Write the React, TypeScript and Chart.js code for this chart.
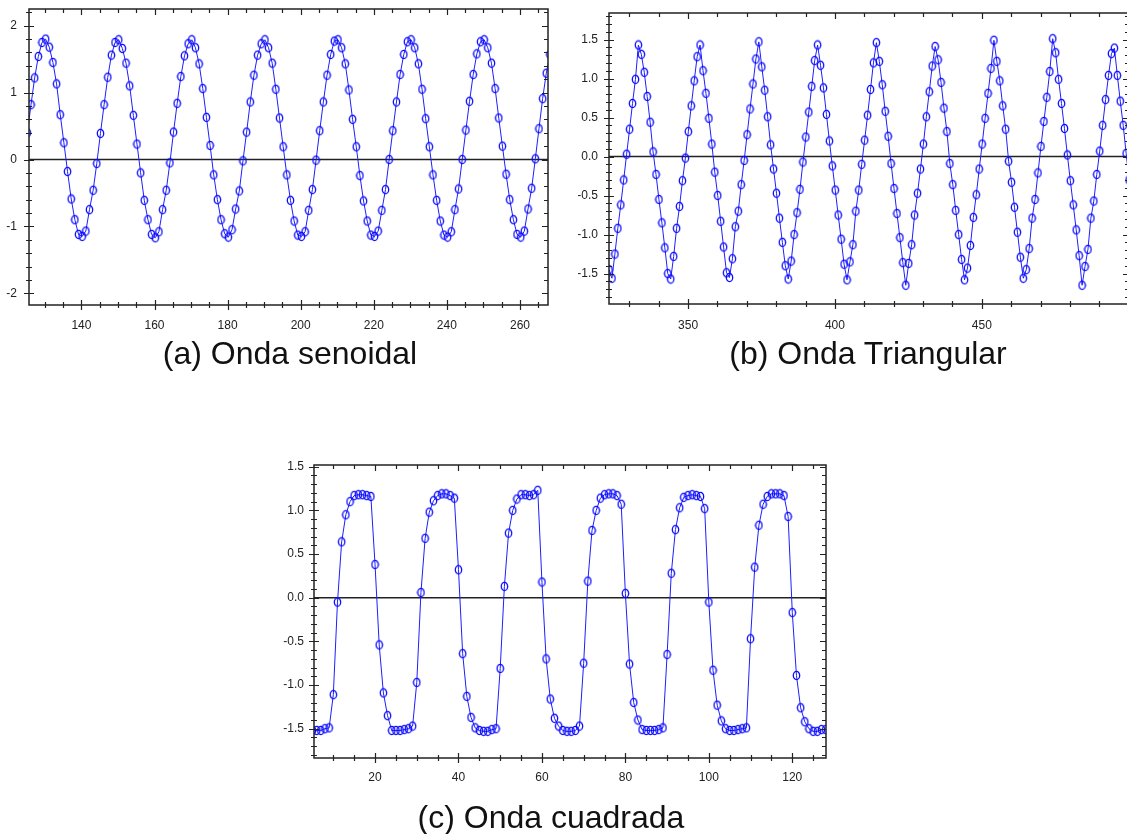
import React, { useEffect, useRef } from "react";
import { Chart, registerables } from "chart.js";

Chart.register(...registerables);

// ---------- (a) Onda senoidal ----------
const SINE_X_START = 125.2;
const SINE_X_STEP = 1;
const SINE_VALUES = [
  0.40, 0.82, 1.22, 1.54, 1.75, 1.80, 1.68, 1.45, 1.13, 0.67, 0.25, -0.18, -0.59, -0.90, -1.12, -1.15, -1.07, -0.75, -0.46, -0.06,
  0.39, 0.82, 1.23, 1.56, 1.75, 1.79, 1.66, 1.44, 1.10, 0.66, 0.23, -0.20, -0.61, -0.90, -1.12, -1.17, -1.08, -0.75, -0.46, -0.05,
  0.41, 0.84, 1.24, 1.55, 1.73, 1.79, 1.67, 1.43, 1.06, 0.63, 0.21, -0.23, -0.60, -0.90, -1.11, -1.16, -1.05, -0.74, -0.47, -0.02,
  0.41, 0.86, 1.26, 1.56, 1.73, 1.79, 1.67, 1.44, 1.05, 0.62, 0.19, -0.23, -0.61, -0.92, -1.13, -1.15, -1.08, -0.76, -0.45, -0.01,
  0.43, 0.86, 1.26, 1.57, 1.77, 1.79, 1.67, 1.43, 1.04, 0.60, 0.19, -0.24, -0.62, -0.92, -1.13, -1.15, -1.07, -0.76, -0.45, 0.00,
  0.43, 0.86, 1.27, 1.57, 1.76, 1.79, 1.67, 1.43, 1.05, 0.61, 0.19, -0.23, -0.61, -0.92, -1.13, -1.16, -1.08, -0.75, -0.44, 0.00,
  0.44, 0.87, 1.27, 1.58, 1.76, 1.79, 1.67, 1.44, 1.06, 0.62, 0.20, -0.22, -0.60, -0.90, -1.12, -1.16, -1.07, -0.74, -0.43, 0.01,
  0.46, 0.91, 1.29, 1.57,
];
const SINE_X_TICKS = [140, 160, 180, 200, 220, 240, 260];
const SINE_Y_TICKS = [-2, -1, 0, 1, 2];

// ---------- (b) Onda Triangular ----------
const TRI_X_START = 323.1;
const TRI_X_STEP = 1;
const TRI_VALUES = [
  -1.45, -1.56, -1.25, -0.92, -0.62, -0.30, 0.03, 0.35, 0.68, 0.99,
  1.43, 1.31, 1.08, 0.77, 0.44, 0.06, -0.23, -0.55, -0.85, -1.17,
  -1.50, -1.57, -1.28, -0.92, -0.64, -0.31, -0.02, 0.32, 0.65, 0.97,
  1.28, 1.43, 1.10, 0.81, 0.49, 0.16, -0.20, -0.50, -0.83, -1.16,
  -1.49, -1.55, -1.31, -0.90, -0.70, -0.36, -0.05, 0.28, 0.61, 0.93,
  1.25, 1.47, 1.15, 0.85, 0.51, 0.15, -0.16, -0.47, -0.79, -1.10,
  -1.40, -1.57, -1.34, -1.00, -0.72, -0.42, -0.07, 0.25, 0.57, 0.90,
  1.23, 1.43, 1.17, 0.88, 0.54, 0.20, -0.12, -0.43, -0.75, -1.06,
  -1.38, -1.58, -1.35, -1.13, -0.70, -0.43, -0.10, 0.21, 0.53, 0.86,
  1.20, 1.46, 1.22, 0.92, 0.58, 0.26, -0.09, -0.41, -0.73, -1.04,
  -1.36, -1.65, -1.37, -1.13, -0.75, -0.47, -0.16, 0.16, 0.51, 0.83,
  1.16, 1.41, 1.24, 0.95, 0.62, 0.32, -0.09, -0.36, -0.69, -1.00,
  -1.32, -1.58, -1.43, -1.14, -0.78, -0.49, -0.16, 0.16, 0.49, 0.81,
  1.13, 1.49, 1.22, 0.97, 0.65, 0.35, -0.06, -0.33, -0.65, -0.97,
  -1.29, -1.56, -1.45, -1.18, -0.79, -0.55, -0.21, 0.13, 0.45, 0.76,
  1.09, 1.51, 1.33, 0.99, 0.68, 0.36, 0.02, -0.31, -0.62, -0.94,
  -1.27, -1.65, -1.41, -1.19, -0.79, -0.57, -0.23, 0.07, 0.40, 0.73,
  1.04, 1.32, 1.39, 1.04, 0.71, 0.40, 0.04, -0.30,
];
const TRI_X_TICKS = [350, 400, 450];
const TRI_Y_TICKS = [-1.5, -1.0, -0.5, 0.0, 0.5, 1.0, 1.5];

// ---------- (c) Onda cuadrada ----------
const SQR_X_START = 5;
const SQR_X_STEP = 1;
const SQR_VALUES = [
  -1.52, -1.52, -1.52, -1.50, -1.49,
  -1.11, -0.05, 0.64, 0.95, 1.10, 1.17, 1.18, 1.18, 1.17, 1.16,
  0.38, -0.54, -1.09, -1.35, -1.52, -1.52, -1.52, -1.51, -1.50, -1.47,
  -0.97, 0.06, 0.68, 0.98, 1.11, 1.17, 1.19, 1.19, 1.17, 1.14,
  0.32, -0.64, -1.13, -1.37, -1.49, -1.52, -1.53, -1.53, -1.51, -1.50,
  -0.81, 0.13, 0.74, 1.00, 1.13, 1.18, 1.18, 1.17, 1.18, 1.23,
  0.18, -0.70, -1.16, -1.38, -1.47, -1.52, -1.53, -1.53, -1.52, -1.47,
  -0.75, 0.19, 0.77, 1.00, 1.14, 1.18, 1.19, 1.19, 1.17, 1.07,
  0.05, -0.76, -1.20, -1.40, -1.51, -1.52, -1.52, -1.52, -1.51, -1.49,
  -0.65, 0.28, 0.78, 1.03, 1.15, 1.17, 1.18, 1.17, 1.16, 1.02,
  -0.05, -0.83, -1.23, -1.41, -1.50, -1.52, -1.52, -1.51, -1.50, -1.49,
  -0.47, 0.35, 0.83, 1.07, 1.16, 1.19, 1.19, 1.19, 1.17, 0.93,
  -0.17, -0.89, -1.26, -1.42, -1.50, -1.53, -1.53, -1.51, -1.51,
];
const SQR_X_TICKS = [20, 40, 60, 80, 100, 120];
const SQR_Y_TICKS = [-1.5, -1.0, -0.5, 0.0, 0.5, 1.0, 1.5];

const FONT = "'Liberation Sans', Arial, Helvetica, sans-serif";
const LINE_COLOR = "#1e1eff";

function makeMarker(): HTMLCanvasElement {
  const c = document.createElement("canvas");
  c.width = 9;
  c.height = 11;
  const g = c.getContext("2d")!;
  g.strokeStyle = "#0a0aff";
  g.lineWidth = 1.3;
  g.beginPath();
  g.ellipse(4.5, 5.5, 3.2, 4.2, 0, 0, Math.PI * 2);
  g.stroke();
  return c;
}

const framePlugin = {
  id: "frame",
  beforeDatasetsDraw(chart: any) {
    const { ctx, chartArea: a, scales } = chart;
    const y0 = scales.y.getPixelForValue(0);
    ctx.save();
    ctx.strokeStyle = "#222";
    ctx.lineWidth = 1.5;
    ctx.beginPath();
    ctx.moveTo(a.left, y0);
    ctx.lineTo(a.right, y0);
    ctx.stroke();
    ctx.restore();
  },
  afterDraw(chart: any, _args: any, opts: any) {
    const { ctx, chartArea: a, scales } = chart;
    const xs = scales.x;
    const ys = scales.y;
    ctx.save();
    ctx.strokeStyle = "#222";
    ctx.lineWidth = 1.5;
    ctx.strokeRect(a.left, a.top, a.right - a.left, a.bottom - a.top);
    ctx.lineWidth = 1.2;
    ctx.beginPath();
    const isMajor = (v: number, majors: number[]) => majors.some((m) => Math.abs(m - v) < 1e-6);
    const xStart = Math.ceil(xs.min / opts.xMinor - 1e-9) * opts.xMinor;
    for (let i = 0; ; i++) {
      const v = xStart + i * opts.xMinor;
      if (v > xs.max + 1e-9) break;
      const p = Math.round(xs.getPixelForValue(v)) + 0.5;
      const maj = isMajor(v, opts.xMajor);
      const l = maj ? 5 : 3;
      ctx.moveTo(p, a.bottom - l);
      ctx.lineTo(p, a.bottom + l);
      ctx.moveTo(p, a.top);
      ctx.lineTo(p, a.top + (maj ? 6 : 4));
    }
    const yStart = Math.ceil(ys.min / opts.yMinor - 1e-9) * opts.yMinor;
    for (let i = 0; ; i++) {
      const v = yStart + i * opts.yMinor;
      if (v > ys.max + 1e-9) break;
      const p = Math.round(ys.getPixelForValue(v)) + 0.5;
      const maj = isMajor(v, opts.yMajor);
      const l = maj ? 5 : 3;
      ctx.moveTo(a.left - l, p);
      ctx.lineTo(a.left + l, p);
      ctx.moveTo(a.right, p);
      ctx.lineTo(a.right - (maj ? 6 : 4), p);
    }
    ctx.stroke();
    ctx.restore();
  },
};

type Cfg = {
  left: number;
  top: number;
  w: number;
  h: number;
  yWidth: number;
  xHeight: number;
  padTop: number;
  padRight: number;
  xMin: number;
  xMax: number;
  yMin: number;
  yMax: number;
  xStart: number;
  xStep: number;
  values: number[];
  xTicks: number[];
  yTicks: number[];
  xMinor: number;
  yMinor: number;
  yDecimals: number;
  xPad: number;
  yPad: number;
};

function WaveChart({ cfg }: { cfg: Cfg }) {
  const ref = useRef<HTMLCanvasElement>(null);
  useEffect(() => {
    const marker = makeMarker();
    const points = cfg.values.map((v, i) => ({ x: cfg.xStart + i * cfg.xStep, y: v }));
    const chart = new Chart(ref.current!, {
      type: "line",
      data: {
        datasets: [
          {
            data: points,
            borderColor: LINE_COLOR,
            borderWidth: 1,
            pointStyle: marker as any,
            pointRadius: 4,
            tension: 0,
            fill: false,
          },
        ],
      },
      options: {
        animation: false,
        responsive: false,
        maintainAspectRatio: false,
        events: [],
        layout: { padding: { top: cfg.padTop, right: cfg.padRight, left: 0, bottom: 0 } },
        plugins: {
          legend: { display: false },
          tooltip: { enabled: false },
          frame: { xMinor: cfg.xMinor, yMinor: cfg.yMinor, xMajor: cfg.xTicks, yMajor: cfg.yTicks },
        } as any,
        scales: {
          x: {
            type: "linear",
            min: cfg.xMin,
            max: cfg.xMax,
            grid: { display: false, drawTicks: false },
            border: { display: false },
            ticks: {
              padding: cfg.xPad,
              color: "#222",
              font: { family: FONT, size: 12 },
              maxRotation: 0,
              autoSkip: false,
              callback: (v: any) => String(v),
            },
            afterBuildTicks: (s: any) => {
              s.ticks = cfg.xTicks.map((v) => ({ value: v }));
            },
            afterFit: (s: any) => {
              s.height = cfg.xHeight;
              s.paddingLeft = 0;
              s.paddingRight = 0;
              s.paddingTop = 0;
              s.paddingBottom = 0;
            },
          },
          y: {
            type: "linear",
            min: cfg.yMin,
            max: cfg.yMax,
            grid: { display: false, drawTicks: false },
            border: { display: false },
            ticks: {
              padding: cfg.yPad,
              color: "#222",
              font: { family: FONT, size: 12 },
              autoSkip: false,
              callback: (v: any) => Number(v).toFixed(cfg.yDecimals),
            },
            afterBuildTicks: (s: any) => {
              s.ticks = cfg.yTicks.map((v) => ({ value: v }));
            },
            afterFit: (s: any) => {
              s.width = cfg.yWidth;
              s.paddingLeft = 0;
              s.paddingRight = 0;
              s.paddingTop = 0;
              s.paddingBottom = 0;
            },
          },
        },
      },
      plugins: [framePlugin],
    } as any);
    return () => chart.destroy();
  }, [cfg]);
  return (
    <canvas
      ref={ref}
      width={cfg.w}
      height={cfg.h}
      style={{ position: "absolute", left: cfg.left, top: cfg.top, width: cfg.w, height: cfg.h }}
    />
  );
}

const CFG_A: Cfg = {
  left: 0, top: 0, w: 556, h: 345, yWidth: 29, xHeight: 40, padTop: 9, padRight: 8,
  xMin: 125.65, xMax: 267.67, yMin: -2.175, yMax: 2.25,
  xStart: SINE_X_START, xStep: SINE_X_STEP, values: SINE_VALUES,
  xTicks: SINE_X_TICKS, yTicks: SINE_Y_TICKS, xMinor: 5, yMinor: 0.2, yDecimals: 0, xPad: 13, yPad: 12,
};
const CFG_B: Cfg = {
  left: 578, top: 0, w: 556, h: 345, yWidth: 31, xHeight: 41, padTop: 13, padRight: 3,
  xMin: 323.1, xMax: 500.07, yMin: -1.89, yMax: 1.84,
  xStart: TRI_X_START, xStep: TRI_X_STEP, values: TRI_VALUES,
  xTicks: TRI_X_TICKS, yTicks: TRI_Y_TICKS, xMinor: 10, yMinor: 0.1, yDecimals: 1, xPad: 14, yPad: 11,
};
const CFG_C: Cfg = {
  left: 274, top: 455, w: 560, h: 345, yWidth: 40, xHeight: 42, padTop: 10, padRight: 8,
  xMin: 5.37, xMax: 128.08, yMin: -1.835, yMax: 1.52,
  xStart: SQR_X_START, xStep: SQR_X_STEP, values: SQR_VALUES,
  xTicks: SQR_X_TICKS, yTicks: SQR_Y_TICKS, xMinor: 5, yMinor: 0.1, yDecimals: 1, xPad: 12, yPad: 10,
};

const captionStyle = (cx: number, top: number): React.CSSProperties => ({
  position: "absolute",
  left: cx,
  top,
  transform: "translateX(-50%)",
  fontFamily: FONT,
  fontSize: 32,
  lineHeight: 1,
  whiteSpace: "nowrap",
  color: "#111",
});

export default function App() {
  return (
    <div
      style={{
        position: "absolute",
        left: 0,
        top: 0,
        width: 1127,
        height: 834,
        overflow: "hidden",
        background: "#ffffff",
      }}
    >
      <WaveChart cfg={CFG_A} />
      <WaveChart cfg={CFG_B} />
      <WaveChart cfg={CFG_C} />
      <div style={captionStyle(290, 337)}>(a) Onda senoidal</div>
      <div style={captionStyle(868, 337)}>(b) Onda Triangular</div>
      <div style={captionStyle(551, 801)}>(c) Onda cuadrada</div>
    </div>
  );
}
